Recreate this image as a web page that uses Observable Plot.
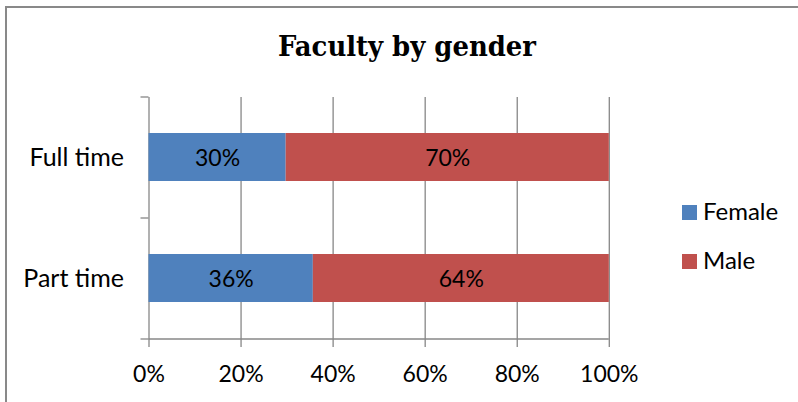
<!DOCTYPE html>
<html><head><meta charset="utf-8">
<script src="https://cdn.jsdelivr.net/npm/d3@7"></script>
<script src="https://cdn.jsdelivr.net/npm/@observablehq/plot@0.6"></script>
<style>
html,body{margin:0;padding:0;width:798px;height:402px;overflow:hidden;background:#fff;}
#wrap{position:relative;width:798px;height:402px;overflow:hidden;}
#border{position:absolute;left:5px;top:6px;width:1000px;height:1000px;border:2px solid #898989;box-sizing:border-box;}
#chart{position:absolute;left:0;top:0;}
</style></head>
<body>
<div id="wrap"><div id="border"></div><div id="chart"></div></div>
<script>
const title = "Faculty by gender";
const categories = ["Full time", "Part time"];
const series = ["Female", "Male"];
const female = [0.298, 0.357];
const male = [0.702, 0.643];
const xTicks = [0, 0.2, 0.4, 0.6, 0.8, 1];
const colors = ["#4F81BD", "#C0504D"];

const data = categories.flatMap((c, i) => [
  {category: c, gender: series[0], value: female[i]},
  {category: c, gender: series[1], value: male[i]}
]);

const grid = "#878787";
const sans = "Lato, sans-serif";
const pct = d3.format(".0%");

const decor = (index, scales, values, dims) => {
  const {marginTop, marginBottom, marginLeft, marginRight, width, height} = dims;
  const g = d3.create("svg:g");
  const ax = g.append("g").attr("stroke", grid).attr("stroke-width", 1.3);
  const n = categories.length;
  const step = (height - marginTop - marginBottom) / n;
  for (let k = 0; k <= n; k++) {
    const y = marginTop + k * step;
    ax.append("line").attr("x1", marginLeft - 8).attr("x2", marginLeft).attr("y1", y).attr("y2", y);
  }
  const yb = height - marginBottom;
  ax.append("line").attr("x1", marginLeft).attr("x2", width - marginRight).attr("y1", yb).attr("y2", yb);
  // title
  g.append("text").attr("x", 407).attr("y", 56).attr("text-anchor", "middle")
    .attr("font-family", "'DejaVu Serif Condensed', 'DejaVu Serif', serif").attr("font-weight", "bold")
    .attr("font-stretch", "condensed")
    .attr("font-size", 28.8).attr("fill", "#000").text(title);
  // legend
  series.forEach((s, i) => {
    const y0 = 205 + i * 49;
    g.append("rect").attr("x", 682).attr("y", y0).attr("width", 15).attr("height", 15).attr("fill", colors[i]);
    g.append("text").attr("x", 703).attr("y", y0 + 15).attr("text-anchor", "start").attr("font-family", sans)
      .attr("font-size", 24).attr("fill", "#000").text(s);
  });
  return g.node();
};

const plot = Plot.plot({
  width: 798, height: 402,
  marginLeft: 148.5, marginRight: 189.2, marginTop: 97, marginBottom: 63,
  style: {fontFamily: sans, background: "transparent", overflow: "visible", color: "#000"},
  x: {domain: [0, 1]},
  y: {domain: categories, paddingInner: 0.6, paddingOuter: 0.3},
  color: {domain: series, range: colors},
  marks: [
    Plot.ruleX(xTicks, {stroke: grid, strokeWidth: 1.3}),
    Plot.barX(data, Plot.stackX({x: "value", y: "category", fill: "gender", order: series})),
    Plot.textX(data, Plot.stackX({x: "value", y: "category", z: "gender", order: series,
      text: d => pct(d.value), fontSize: 23, fill: "#000", dy: 1.5})),
    Plot.axisX({ticks: xTicks, tickSize: 8, tickPadding: 18, tickFormat: pct, label: null,
      stroke: grid, strokeWidth: 1.3, fontSize: 23, fill: "#000"}),
    Plot.axisY({tickSize: 0, tickPadding: 25, label: null, fontSize: 25, fill: "#000"}),
    decor
  ]
});
document.getElementById("chart").appendChild(plot);
</script>
</body></html>
